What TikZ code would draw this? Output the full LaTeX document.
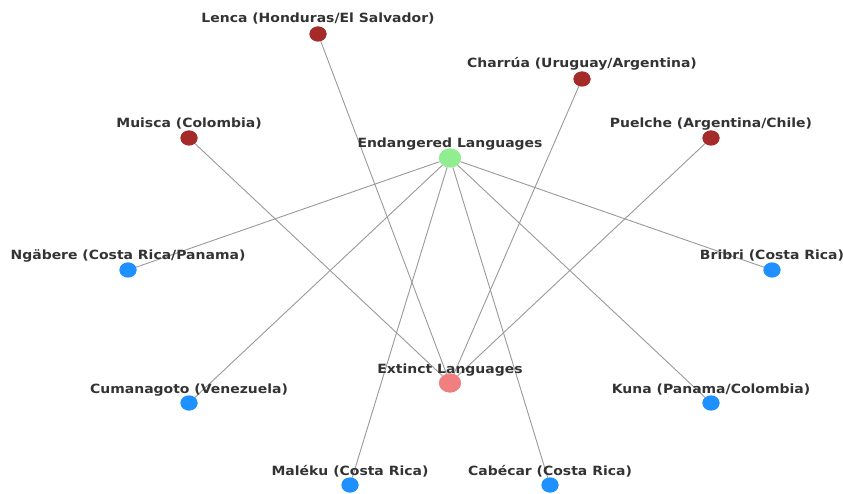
\documentclass[tikz,border=0pt]{standalone}
\usepackage{fontspec}
\setmainfont{DejaVu Sans}
\newfontfamily\lblfont[FakeStretch=1.1]{DejaVu Sans}
\usetikzlibrary{shapes.geometric}
\definecolor{txt}{HTML}{333333}
\definecolor{edge}{HTML}{999999}
\definecolor{endg}{HTML}{90EE90}
\definecolor{extc}{HTML}{F08080}
\definecolor{redn}{HTML}{A52A2A}
\definecolor{blun}{HTML}{1E90FF}
\tikzset{
  dot/.style={ellipse, inner sep=0pt, minimum width=17pt, minimum height=15pt, draw=none},
  bigdot/.style={ellipse, inner sep=0pt, minimum width=22pt, minimum height=19pt, draw=none},
  lbl/.style={text=txt, font=\lblfont\fontsize{12.7}{14}\selectfont\bfseries, inner sep=0pt, anchor=base},
  conn/.style={draw=edge, line width=0.9pt}
}
\begin{document}
\begin{tikzpicture}[x=1pt,y=-1pt]
\useasboundingbox (0,0) rectangle (843,494);
\node[bigdot, fill=endg] (en) at (450,158) {};
\node[bigdot, fill=extc] (ex) at (450,383) {};
\node[dot, fill=redn] (lenca) at (318,34) {};
\node[dot, fill=redn] (charrua) at (582,79) {};
\node[dot, fill=redn] (muisca) at (189,138) {};
\node[dot, fill=redn] (puelche) at (711,138) {};
\node[dot, fill=blun] (ngabere) at (128,270) {};
\node[dot, fill=blun] (bribri) at (772,270) {};
\node[dot, fill=blun] (cuma) at (189,403) {};
\node[dot, fill=blun] (kuna) at (711,403) {};
\node[dot, fill=blun] (maleku) at (350,485) {};
\node[dot, fill=blun] (cabecar) at (550,485) {};
\foreach \b in {ngabere,bribri,cuma,kuna,maleku,cabecar} \draw[conn] (en) -- (\b);
\foreach \r in {lenca,charrua,muisca,puelche} \draw[conn] (ex) -- (\r);
% redraw nodes on top of the connectors
\node[bigdot, fill=endg] at (en) {};
\node[bigdot, fill=extc] at (ex) {};
\foreach \r in {lenca,charrua,muisca,puelche} \node[dot, fill=redn] at (\r) {};
\foreach \b in {ngabere,bribri,cuma,kuna,maleku,cabecar} \node[dot, fill=blun] at (\b) {};
\node[lbl] (len) at (450,148) {Endangered Languages};
\node[lbl] (lex) at (450,373) {Extinct Languages};
\node[lbl] (llenca) at (318,23) {Lenca (Honduras/El Salvador)};
\node[lbl] (lcharrua) at (582,68) {Charrúa (Uruguay/Argentina)};
\node[lbl] (lmuisca) at (189,128) {Muisca (Colombia)};
\node[lbl] (lpuelche) at (711,128) {Puelche (Argentina/Chile)};
\node[lbl] (lngabere) at (128,260) {Ngäbere (Costa Rica/Panama)};
\node[lbl] (lbribri) at (772,260) {Bribri (Costa Rica)};
\node[lbl] (lcuma) at (189,393) {Cumanagoto (Venezuela)};
\node[lbl] (lkuna) at (711,393) {Kuna (Panama/Colombia)};
\node[lbl] (lmaleku) at (350,475) {Maléku (Costa Rica)};
\node[lbl] (lcabecar) at (550,475) {Cabécar (Costa Rica)};
\end{tikzpicture}
\end{document}
